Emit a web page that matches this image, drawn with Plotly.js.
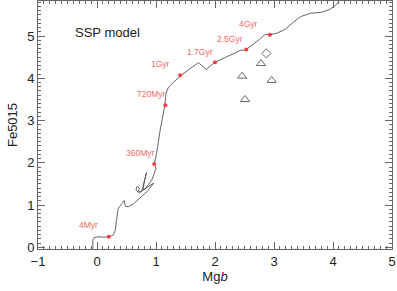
<!DOCTYPE html>
<html>
<head>
<meta charset="utf-8">
<script src="https://cdn.plot.ly/plotly-3.0.1.min.js"></script>
<style>html,body{margin:0;padding:0;background:#fff;}#chart{width:397px;height:291px;}</style>
</head>
<body>
<div id="chart"></div>
<script>
// SSP model track (Mgb, Fe5015)
const trackX = [-0.07,-0.07,-0.05,0.02,0.11,0.20,0.27,0.31,0.33,0.36,0.40,0.44,0.46,0.48,0.53,0.62,0.73,0.87,0.96,
  0.85,0.76,0.70,0.66,0.68,0.72,0.70,0.74,0.77,0.84,0.80,0.78,0.84,0.93,1.00,0.97,
  1.01,1.07,1.11,1.15,1.17,1.21,1.30,1.42,1.72,1.85,2.00,2.26,2.43,2.53,2.63,2.77,2.85,2.93,3.05,3.19,3.33,3.45,3.62,3.79,3.93,4.04,4.11];
const trackY = [-0.05,0.17,0.23,0.25,0.24,0.25,0.28,0.40,0.64,0.92,0.99,1.07,1.11,0.97,0.96,1.03,1.18,1.35,1.52,
  1.42,1.33,1.30,1.36,1.44,1.40,1.33,1.30,1.38,1.77,1.55,1.36,1.42,1.60,1.86,1.97,
  2.22,2.77,3.08,3.36,3.64,3.79,3.91,4.07,4.37,4.21,4.38,4.55,4.66,4.68,4.78,4.94,5.04,5.03,5.07,5.16,5.33,5.46,5.54,5.56,5.62,5.72,5.84];

// Age markers on the track
const ageNames = ["4Myr","360Myr","720Myr","1Gyr","1.7Gyr","2.5Gyr","4Gyr"];
const ageX = [0.20,0.97,1.16,1.41,2.00,2.53,2.93];
const ageY = [0.25,1.97,3.36,4.07,4.38,4.68,5.03];
// Label anchor positions
const labelX = [-0.14,0.73,0.93,1.08,1.75,2.25,2.56];
const labelY = [0.53,2.23,3.63,4.34,4.62,4.93,5.28];

// Observed points
const triX = [2.46,2.51,2.78,2.96];
const triY = [4.05,3.50,4.35,3.95];
const diaX = [2.87];
const diaY = [4.59];

const FONT = "Liberation Sans, Arial, Helvetica, sans-serif";

const traces = [
  {x: trackX, y: trackY, mode: "lines", line: {color: "#555", width: 0.9}, hoverinfo: "skip"},
  {x: ageX, y: ageY, mode: "markers", marker: {color: "#ff3b3b", size: 4}},
  {x: triX, y: triY, mode: "markers", marker: {symbol: "triangle-up-open", color: "#444", size: 8, line: {width: 0.8}}},
  {x: diaX, y: diaY, mode: "markers", marker: {symbol: "diamond-open", color: "#444", size: 7, line: {width: 0.8}}}
];

const annotations = ageNames.map((t, i) => ({
  x: labelX[i], y: labelY[i], text: t, showarrow: false,
  xanchor: "center", yanchor: "middle",
  font: {family: FONT, size: 8.5, color: "#f26b63"}
}));
annotations.push({x: 0.17, y: 5.09, text: "SSP model", showarrow: false,
  xanchor: "center", yanchor: "middle", font: {family: FONT, size: 13, color: "#222"}});

const axisCommon = {
  showgrid: false, zeroline: false, showline: true, linecolor: "#666", linewidth: 1,
  mirror: "ticks", ticks: "inside", ticklen: 7, tickwidth: 1, tickcolor: "#666",
  tickfont: {family: FONT, size: 13, color: "#222"},
  minor: {dtick: 0.1, ticks: "inside", ticklen: 3, tickwidth: 1, tickcolor: "#666"}
};

const layout = {
  width: 397, height: 291,
  margin: {l: 38, r: 5, t: 1, b: 42},
  paper_bgcolor: "#fff", plot_bgcolor: "#fff",
  showlegend: false,
  xaxis: Object.assign({}, axisCommon, {range: [-1, 5], dtick: 1, tick0: 0,
    title: {text: "Mg<i>b</i>", font: {family: FONT, size: 13, color: "#222"}, standoff: 4}}),
  yaxis: Object.assign({}, axisCommon, {range: [-0.04, 5.83], dtick: 1, tick0: 0,
    title: {text: "Fe5015", font: {family: FONT, size: 13, color: "#222"}, standoff: 6}}),
  annotations: annotations
};

Plotly.newPlot("chart", traces, layout, {displayModeBar: false, staticPlot: true});
</script>
</body>
</html>
